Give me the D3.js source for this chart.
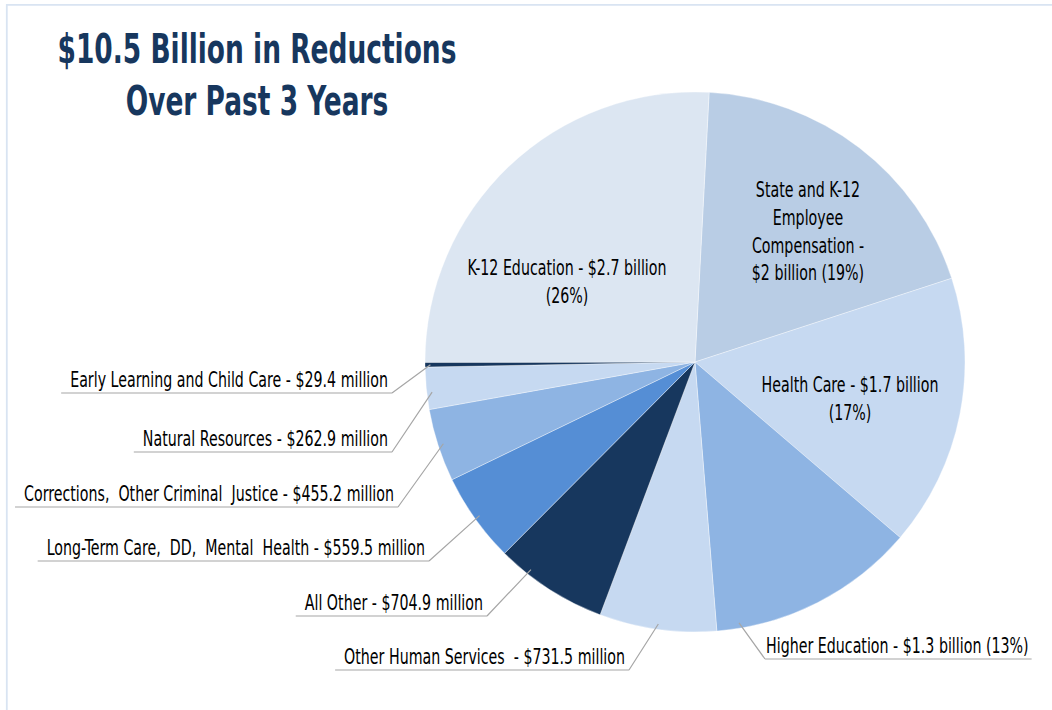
<!DOCTYPE html>
<html>
<head>
<meta charset="utf-8">
<script src="https://cdn.jsdelivr.net/npm/d3@7/dist/d3.min.js"></script>
<style>
  html, body { margin: 0; padding: 0; background: #ffffff; }
  svg { display: block; }
  .lbl {
    font-family: "Liberation Sans Narrow", "DejaVu Sans Condensed", "Roboto Condensed", Roboto, "Liberation Sans", sans-serif;
    font-size: 20.5px;
    fill: #000000;
    white-space: pre;
  }
  .title {
    font-family: "Liberation Sans Narrow", "DejaVu Sans Condensed", "Roboto Condensed", Roboto, "Liberation Sans", sans-serif;
    font-weight: bold;
    font-size: 41px;
    fill: #17375e;
  }
</style>
</head>
<body>
<svg id="chart" width="1052" height="710"></svg>
<script>
// ---- data (clockwise from the top of the pie) ----
const categories = [
  "State and K-12 Employee Compensation",
  "Health Care",
  "Higher Education",
  "Other Human Services",
  "All Other",
  "Long-Term Care, DD, Mental Health",
  "Corrections, Other Criminal Justice",
  "Natural Resources",
  "Early Learning and Child Care",
  "K-12 Education"
];
// reductions, $ millions
const reductions = [2000, 1700, 1300, 731.5, 704.9, 559.5, 455.2, 262.9, 29.4, 2700];
const labelTexts = [
  ["State and K-12", "Employee", "Compensation -", "$2 billion (19%)"],
  ["Health Care - $1.7 billion", "(17%)"],
  ["Higher Education - $1.3 billion (13%)"],
  ["Other Human Services  - $731.5 million"],
  ["All Other - $704.9 million"],
  ["Long-Term Care,  DD,  Mental  Health - $559.5 million"],
  ["Corrections,  Other Criminal  Justice - $455.2 million"],
  ["Natural Resources - $262.9 million"],
  ["Early Learning and Child Care - $29.4 million"],
  ["K-12 Education - $2.7 billion", "(26%)"]
];
const titleLines = ["$10.5 Billion in Reductions", "Over Past 3 Years"];

// ---- styling / layout ----
const sliceColors = ["#b9cde5", "#c6d9f1", "#8eb4e3", "#c6d9f1", "#17375e",
                     "#558ed5", "#8eb4e3", "#c6d9f1", "#17375e", "#dce6f2"];
// inside labels: centre x, first line centre y, line height
// outside labels: side of the text, text edge x, underline y, where the leader meets the slice (0..1)
const labelLayout = [
  { inside: true, x: 808, y: 190, lh: 27.7 },
  { inside: true, x: 850, y: 385, lh: 27.5 },
  { inside: false, side: "right", x: 766, lineY: 659, along: 0.89 },
  { inside: false, side: "left", x: 625, lineY: 670, along: 0.5 },
  { inside: false, side: "left", x: 483, lineY: 616, along: 0.73 },
  { inside: false, side: "left", x: 425, lineY: 561, along: 0.5 },
  { inside: false, side: "left", x: 394, lineY: 507, along: 0.5 },
  { inside: false, side: "left", x: 388, lineY: 452, along: 0.4 },
  { inside: false, side: "left", x: 388, lineY: 393, along: 0.5 },
  { inside: true, x: 567, y: 268, lh: 28 }
];

const W = 1052, H = 710;
const cx = 695, cy = 362, R = 270;
const rotation = 3 * Math.PI / 180;

const svg = d3.select("#chart");

// frame
svg.append("path")
  .attr("d", `M6.8,${H} L6.8,4.8 L${W},4.8`)
  .attr("fill", "none")
  .attr("stroke", "#d9e4f2")
  .attr("stroke-width", 1.8);

// text helper: a text node squeezed horizontally by factor k about its anchor point
function squeezedText(parent, cls, str, x, y, anchor, k, dy) {
  const grp = parent.append("g");
  const t = grp.append("text").attr("class", cls)
    .attr("x", 0).attr("y", 0).attr("text-anchor", anchor).text(str);
  if (dy) t.attr("dy", dy);
  grp.attr("transform", `translate(${x},${y}) scale(${k},1)`);
  return { g: grp, t: t, w: t.node().getComputedTextLength() * k };
}
function naturalWidth(cls, str) {
  const t = svg.append("text").attr("class", cls).attr("x", -2000).attr("y", -100).text(str);
  const w = t.node().getComputedTextLength();
  t.remove();
  return w;
}

// title
const titleK = Math.min(1, 399 / naturalWidth("title", titleLines[0]));
const titleBaselines = [63, 115];
titleLines.forEach((t, i) => squeezedText(svg, "title", t, 257, titleBaselines[i], "middle", titleK));

// pie
const data = categories.map((c, i) => ({
  name: c, value: reductions[i], color: sliceColors[i],
  lines: labelTexts[i], layout: labelLayout[i]
}));
const pie = d3.pie().sort(null).value(d => d.value)
  .startAngle(rotation).endAngle(rotation + 2 * Math.PI);
const arcs = pie(data);
const arc = d3.arc().innerRadius(0).outerRadius(R);

const g = svg.append("g").attr("transform", `translate(${cx},${cy})`);
g.selectAll("path.slice").data(arcs).join("path")
  .attr("class", "slice")
  .attr("d", arc)
  .attr("fill", d => d.data.color)
  .attr("stroke", "#ffffff")
  .attr("stroke-width", 0.6)
  .attr("stroke-opacity", 0.6);

// labels
const labelK = Math.min(1, 318 / naturalWidth("lbl", labelTexts[8][0]));
const labelG = svg.append("g");
const leaderColor = "#a6a6a6";

arcs.forEach(a => {
  const L = a.data.layout;
  if (L.inside) {
    a.data.lines.forEach((ln, j) =>
      squeezedText(labelG, "lbl", ln, L.x, L.y + j * L.lh, "middle", labelK, "0.36em"));
    return;
  }
  const baseY = L.lineY - 6;
  const anchor = L.side === "left" ? "end" : "start";
  const w = squeezedText(labelG, "lbl", a.data.lines[0], L.x, baseY, anchor, labelK).w;
  let x1, x2, lx;
  if (L.side === "left") {
    x1 = L.x - w - 9; x2 = L.x + 4; lx = x2;
  } else {
    x1 = L.x - 1; x2 = L.x + w + 3; lx = x1;
  }
  const ang = a.startAngle + (a.endAngle - a.startAngle) * L.along;
  const pr = R * 0.98;
  const px = cx + pr * Math.sin(ang), py = cy - pr * Math.cos(ang);
  labelG.append("path")
    .attr("d", `M${x1},${L.lineY} L${x2},${L.lineY} M${lx},${L.lineY} L${px},${py}`)
    .attr("fill", "none")
    .attr("stroke", leaderColor)
    .attr("stroke-width", 1.2);
});
</script>
</body>
</html>
